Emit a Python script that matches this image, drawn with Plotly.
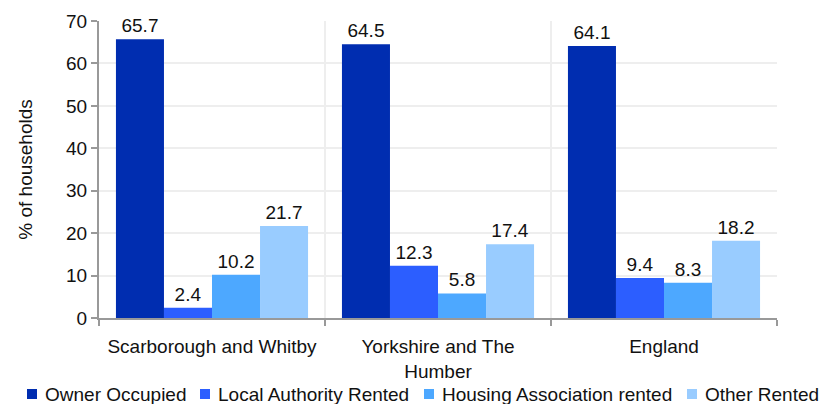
import plotly.graph_objects as go

# Household tenure by area (% of households)
areas = ["Scarborough and Whitby", "Yorkshire and The<br>Humber", "England"]
series_names = ["Owner Occupied", "Local Authority Rented",
                "Housing Association rented", "Other Rented"]
owner_occupied = [65.7, 64.5, 64.1]
local_authority = [2.4, 12.3, 9.4]
housing_association = [10.2, 5.8, 8.3]
other_rented = [21.7, 17.4, 18.2]
y_ticks = [0, 10, 20, 30, 40, 50, 60, 70]

colors = ["#002DB0", "#2C5EFF", "#4DA8FF", "#99CCFF"]
values = [owner_occupied, local_authority, housing_association, other_rented]
xpos = list(range(len(areas)))

W, H = 825, 404
M_L, M_R, M_T, M_B = 99, 48, 21, 86
PLOT_W, PLOT_H = W - M_L - M_R, H - M_T - M_B


def px_to_paper_x(px):
    return (px - M_L) / PLOT_W


def px_to_paper_y(py):
    return (H - M_B - py) / PLOT_H


fig = go.Figure()
for name, vals, col in zip(series_names, values, colors):
    fig.add_trace(go.Bar(
        x=xpos, y=vals, name=name, marker_color=col,
        marker_line_width=0,
        text=[f"{v:.1f}" for v in vals], textposition="outside",
        textfont=dict(size=19, color="#111111"),
        cliponaxis=False, showlegend=False,
    ))

# Single-row legend under the axis: colour key squares with labels
legend_left_px = [27, 200, 424, 687]
legend_row_py = 394
key = 10
for left, name, col in zip(legend_left_px, series_names, colors):
    fig.add_shape(
        type="rect", xref="paper", yref="paper",
        x0=px_to_paper_x(left), x1=px_to_paper_x(left + key),
        y0=px_to_paper_y(legend_row_py + key / 2),
        y1=px_to_paper_y(legend_row_py - key / 2),
        fillcolor=col, line_width=0,
    )
    fig.add_annotation(
        xref="paper", yref="paper", x=px_to_paper_x(left + 16),
        y=px_to_paper_y(legend_row_py), xanchor="left", yanchor="middle",
        text=name, showarrow=False, font=dict(size=19, color="#111111"),
    )

font = "Liberation Sans, Arial, sans-serif"
fig.update_layout(
    width=W, height=H,
    margin=dict(l=M_L, r=M_R, t=M_T, b=M_B, autoexpand=False),
    paper_bgcolor="white", plot_bgcolor="white",
    barmode="group", bargap=0.15, bargroupgap=0,
    font=dict(family=font, size=19, color="#111111"),
    showlegend=False,
    xaxis=dict(
        range=[-0.5, 2.5], tickvals=xpos, ticktext=areas,
        showgrid=False, ticks="", showline=True, linecolor="#999999",
        linewidth=2, zeroline=False, ticklabelstandoff=10,
        minor=dict(tickvals=[-0.5, 0.5, 1.5, 2.5], showgrid=True,
                   gridcolor="#EEEEEE", gridwidth=2, ticks="outside",
                   ticklen=6, tickcolor="#999999", tickwidth=2),
        tickfont=dict(size=19),
    ),
    yaxis=dict(
        range=[0, 70], tickvals=y_ticks, showgrid=True,
        gridcolor="#EEEEEE", gridwidth=2, showline=True,
        linecolor="#999999", linewidth=2, ticks="outside", ticklen=6,
        tickcolor="#999999", tickwidth=2, zeroline=False,
        title=dict(text="% of households", font=dict(size=19), standoff=28),
        tickfont=dict(size=19),
    ),
)

fig.write_html("out.html")
